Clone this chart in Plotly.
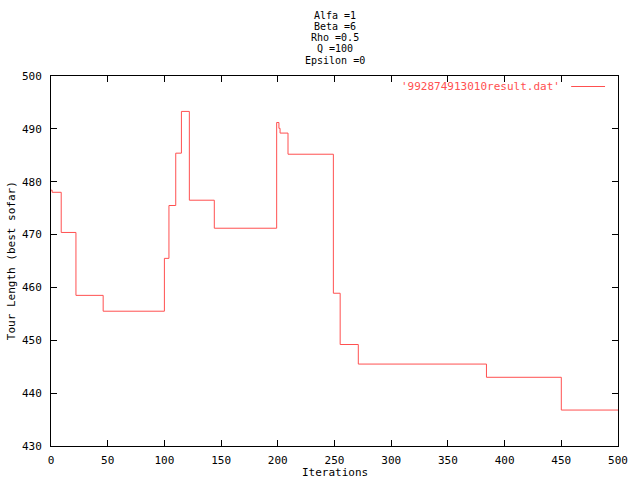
import plotly.graph_objects as go

# best-so-far tour length, recorded at the iterations where it changes
iterations = [0, 1, 9, 22, 46, 100, 104, 110, 115, 122, 144, 199, 201, 202, 209, 249, 255, 271, 384, 450, 500]
best_sofar = [478.4, 478.0, 470.4, 458.5, 455.5, 465.5, 475.5, 485.4, 493.3, 476.5, 471.2, 491.2, 490.1, 489.2,
              485.2, 458.9, 449.2, 445.5, 443.0, 436.8, 436.8]

title_lines = ["Alfa =1", "Beta =6", "Rho =0.5", "Q =100", "Epsilon =0"]
series_name = "'992874913010result.dat'"
x_ticks = [0, 50, 100, 150, 200, 250, 300, 350, 400, 450, 500]
y_ticks = [430, 440, 450, 460, 470, 480, 490, 500]

RED = "#ff5050"
FONT = "DejaVu Sans Mono"

fig = go.Figure()
fig.add_trace(go.Scatter(
    x=iterations, y=best_sofar, mode="lines", line_shape="hv",
    line=dict(color=RED, width=1), name=series_name, showlegend=False
))

# plot area runs from px 51..620 (x) and 76..446 (y)
def py(p):
    return (446 - p) / 370

def px(p):
    return (p - 51) / 569

annotations = []
for i, line in enumerate(title_lines):
    annotations.append(dict(
        text=line, xref="paper", yref="paper", x=0.5, y=py(15.3 + 11.2 * i),
        xanchor="center", yanchor="middle", showarrow=False,
        font=dict(family=FONT, size=10, color="black")
    ))

annotations += [
    dict(text="Iterations", xref="paper", yref="paper", x=0.5, y=py(472),
         xanchor="center", yanchor="middle", showarrow=False,
         font=dict(family=FONT, size=11, color="black")),
    dict(text="Tour Length (best sofar)", xref="paper", yref="paper", x=px(11), y=0.5,
         xanchor="center", yanchor="middle", textangle=-90, showarrow=False,
         font=dict(family=FONT, size=11, color="black")),
    dict(text=series_name, xref="paper", yref="paper", x=px(564), y=py(86.5),
         xanchor="right", yanchor="middle", showarrow=False,
         font=dict(family=FONT, size=11, color=RED)),
]

fig.add_shape(type="line", xref="paper", yref="paper",
              x0=px(573), x1=px(607), y0=py(86.5), y1=py(86.5),
              line=dict(color=RED, width=1))

axis_style = dict(
    showline=True, linecolor="black", linewidth=1, mirror="ticks",
    ticks="inside", ticklen=6, tickcolor="black", tickwidth=1,
    showgrid=False, zeroline=False,
    tickfont=dict(family=FONT, size=11, color="black"),
)

fig.update_layout(
    width=640, height=480,
    margin=dict(l=51, r=20, t=76, b=34),
    paper_bgcolor="white", plot_bgcolor="white",
    annotations=annotations,
    xaxis=dict(range=[0, 500], tickvals=x_ticks, ticklabelstandoff=4, **axis_style),
    yaxis=dict(range=[430, 500], tickvals=y_ticks, ticklabelstandoff=6, **axis_style),
)

# drop the default page margin so the figure sits at the window's top-left corner
fig.write_html("out.html", config={"displayModeBar": False},
               post_script="document.body.style.margin='0';")
